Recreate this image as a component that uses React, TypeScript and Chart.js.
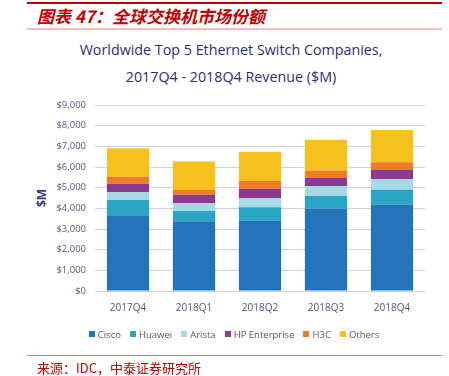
import React, { useEffect, useRef } from "react";
import { Chart, registerables } from "chart.js";

Chart.register(...registerables);

const quarters = ["2017Q4", "2018Q1", "2018Q2", "2018Q3", "2018Q4"];
const cisco = [3670, 3380, 3400, 3980, 4175];
const huawei = [730, 490, 650, 615, 730];
const arista = [375, 390, 450, 485, 505];
const hpe = [415, 400, 450, 390, 465];
const h3c = [340, 230, 375, 355, 360];
const others = [1380, 1375, 1410, 1490, 1550];
const seriesNames = ["Cisco", "Huawei", "Arista", "HP Enterprise", "H3C", "Others"];
const seriesColors = ["#2474bb", "#2aa5c3", "#a5d9e5", "#8c3a8f", "#f07c26", "#f6c11c"];
const titleLines = ["Worldwide Top 5 Ethernet Switch Companies,", "2017Q4 - 2018Q4 Revenue ($M)"];
const headerText = "图表 47：全球交换机市场份额";
const sourceText = "来源：IDC，中泰证券研究所";

const FONT = "'Open Sans', sans-serif";

export default function App() {
  const ref = useRef<HTMLCanvasElement | null>(null);

  useEffect(() => {
    if (!ref.current) return;
    const allSeries = [cisco, huawei, arista, hpe, h3c, others];
    const chart = new Chart(ref.current, {
      type: "bar",
      data: {
        labels: quarters,
        datasets: allSeries.map((d, i) => ({
          label: seriesNames[i],
          data: d,
          backgroundColor: seriesColors[i],
          borderWidth: 0,
          categoryPercentage: 1,
          barPercentage: 0.64,
        })),
      },
      options: {
        animation: false,
        responsive: false,
        maintainAspectRatio: false,
        layout: { padding: { left: 0, right: 24, top: 75, bottom: 31 } },
        plugins: {
          title: { display: false },
          legend: { display: false },
          tooltip: { enabled: false },
        },
        scales: {
          x: {
            stacked: true,
            afterFit: (s: any) => {
              s.height = 30;
            },
            grid: { display: false, drawTicks: false },
            border: { display: false },
            ticks: {
              color: "#55557a",
              padding: 11,
              font: { family: FONT, size: 10 },
            },
          },
          y: {
            stacked: true,
            min: 0,
            max: 9000,
            afterFit: (s: any) => {
              s.width = 95;
            },
            grid: { color: "#cfcfe6", lineWidth: 1, drawTicks: false },
            border: { display: false },
            ticks: {
              stepSize: 1000,
              color: "#55557a",
              padding: 9,
              font: { family: FONT, size: 9.5 },
              callback: (v: any) => "$" + Number(v).toLocaleString("en-US"),
            },
            title: {
              display: true,
              text: "$M",
              color: "#2e3192",
              font: { family: FONT, size: 12, weight: "bold" },
              padding: { top: 35, bottom: 0 },
            },
          },
        },
      },
    });
    return () => chart.destroy();
  }, []);

  return (
    <div style={{ position: "absolute", left: 0, top: 0, width: 449, height: 376, background: "#fff", overflow: "hidden" }}>
      <div style={{ position: "absolute", left: 27, top: 2, width: 415, height: 2, background: "#c00000" }} />
      <div
        style={{
          position: "absolute",
          left: 37,
          top: 5,
          fontFamily: "'Noto Sans CJK SC', sans-serif",
          fontSize: 17,
          fontWeight: "bold",
          fontStyle: "italic",
          color: "#c00000",
          lineHeight: "22px",
          whiteSpace: "nowrap",
        }}
      >
        {headerText}
      </div>
      <div style={{ position: "absolute", left: 27, top: 28, width: 415, height: 2, background: "#f4bcbc" }} />
      {titleLines.map((t, i) => (
        <div
          key={t}
          style={{
            position: "absolute",
            left: 0,
            width: 462,
            top: 39 + i * 27,
            height: 22,
            lineHeight: "22px",
            textAlign: "center",
            fontFamily: FONT,
            fontSize: 14.3,
            color: "#2e2e72",
            whiteSpace: "nowrap",
          }}
        >
          {t}
        </div>
      ))}
      <canvas ref={ref} width={449} height={322} style={{ position: "absolute", left: 0, top: 30, width: 449, height: 322 }} />
      <div
        style={{
          position: "absolute",
          left: 0,
          top: 326,
          width: 468,
          height: 16,
          display: "flex",
          justifyContent: "center",
          alignItems: "center",
          gap: 9,
          fontFamily: FONT,
          fontSize: 9.5,
          color: "#555566",
          whiteSpace: "nowrap",
        }}
      >
        {seriesNames.map((n, i) => (
          <div key={n} style={{ display: "flex", alignItems: "center", gap: 3 }}>
            <span style={{ display: "inline-block", width: 6, height: 6, background: seriesColors[i] }} />
            <span>{n}</span>
          </div>
        ))}
      </div>
      <div style={{ position: "absolute", left: 27, top: 355, width: 415, height: 1, background: "#e07a7a" }} />
      <div
        style={{
          position: "absolute",
          left: 37,
          top: 360,
          fontFamily: "'Noto Sans CJK SC', monospace",
          fontSize: 13,
          color: "#c00000",
          lineHeight: "16px",
          whiteSpace: "nowrap",
        }}
      >
        {sourceText}
      </div>
    </div>
  );
}
